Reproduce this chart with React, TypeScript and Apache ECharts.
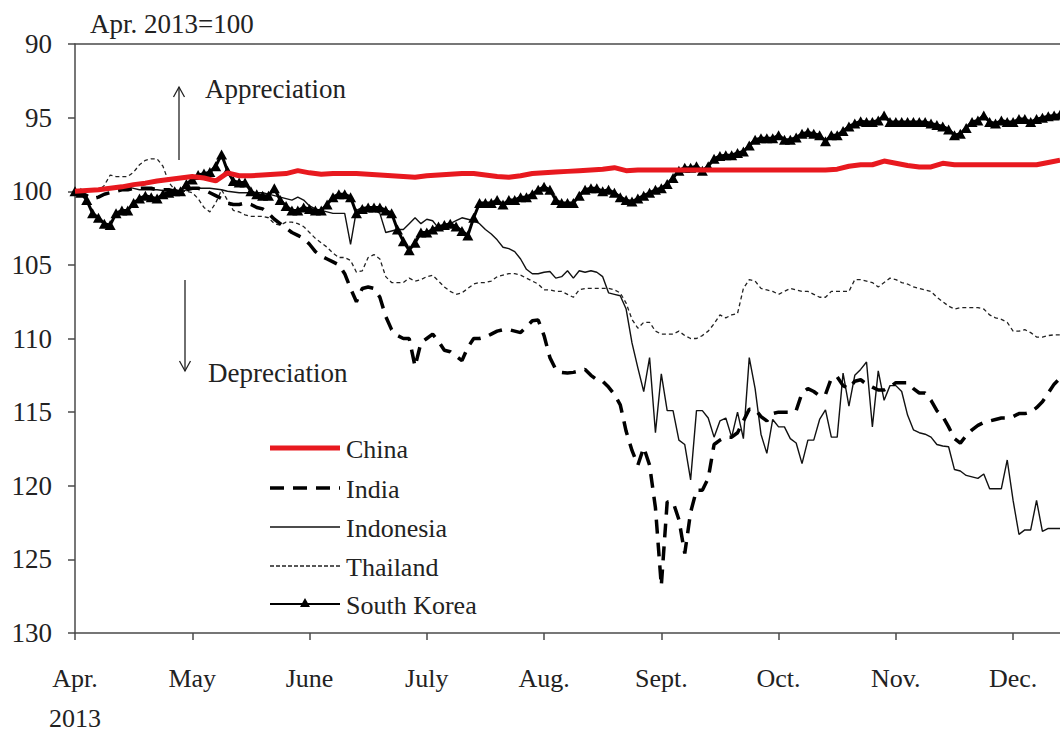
import React, { useEffect, useRef } from "react";
import * as echarts from "echarts";

// ---- labels ----
const monthLabels = ["Apr.", "May", "June", "July", "Aug.", "Sept.", "Oct.", "Nov.", "Dec."];
const yearLabel = "2013";
const baseNote = "Apr. 2013=100";
const upNote = "Appreciation";
const downNote = "Depreciation";
const seriesNames = ["China", "India", "Indonesia", "Thailand", "South Korea"];

// x is measured in months since 1 Apr 2013
const X_MAX = 8.4;
const COARSE_STEP = 0.1; // China
const FINE_STEP = 0.05; // others

// ---- series values (index 2013 Apr = 100; higher = depreciation) ----
const chinaValues = [
  100.0, 99.95, 99.9, 99.8, 99.7, 99.55, 99.45, 99.3, 99.2, 99.1,
  99.0, 99.1, 99.3, 98.75, 98.95, 98.95, 98.9, 98.85, 98.8, 98.6,
  98.75, 98.85, 98.8, 98.8, 98.8, 98.85, 98.9, 98.95, 99.0, 99.05,
  98.95, 98.9, 98.85, 98.8, 98.8, 98.9, 99.0, 99.05, 98.95, 98.8,
  98.75, 98.7, 98.65, 98.6, 98.55, 98.5, 98.4, 98.6, 98.55, 98.55,
  98.55, 98.55, 98.55, 98.55, 98.55, 98.55, 98.55, 98.55, 98.55, 98.55,
  98.55, 98.55, 98.55, 98.55, 98.55, 98.5, 98.3, 98.2, 98.2, 97.95,
  98.1, 98.25, 98.35, 98.35, 98.1, 98.2, 98.2, 98.2, 98.2, 98.2,
  98.2, 98.2, 98.2, 98.05, 97.9,
];

const indiaValues = [
  100.0, 100.1, 100.3, 100.5, 100.4, 100.2, 100.1, 100.0, 99.9, 99.9,
  99.8, 99.8, 99.8, 99.8, 99.9, 99.9, 99.9, 100.0, 100.0, 99.9,
  99.8, 99.8, 99.9, 100.1, 100.3, 100.5, 100.8, 100.9, 100.9, 100.8,
  100.9, 101.1, 101.2, 101.5, 101.9, 102.2, 102.5, 102.8, 103.0, 103.2,
  103.6, 104.1, 104.4, 104.6, 104.8, 105.0, 105.6, 106.6, 107.5, 106.6,
  106.5, 106.6, 107.2, 108.5, 109.4, 109.8, 110.0, 110.0, 111.9, 110.3,
  110.0, 109.7, 110.2, 110.8, 110.9, 111.2, 111.5, 110.6, 110.0, 110.0,
  109.9, 109.7, 109.5, 109.4, 109.4, 109.5, 109.6, 109.2, 108.8, 108.75,
  109.8, 111.3, 112.1, 112.3, 112.35, 112.3, 112.2, 112.1, 112.5, 112.8,
  112.9, 113.3, 113.8, 114.5, 116.3, 117.6, 118.6, 117.4, 118.6, 121.5,
  126.8, 121.1, 121.1, 122.3, 124.6, 121.8, 120.3, 120.3, 119.5, 117.2,
  116.9, 116.7, 116.7, 116.4, 115.6, 114.8, 114.8, 115.3, 115.6, 115.1,
  115.0, 115.0, 115.0, 114.9, 113.7, 113.4, 113.6, 113.9, 113.8, 112.7,
  112.6, 113.2, 113.4, 112.9, 112.8, 113.1, 113.3, 113.5, 113.5, 113.3,
  113.0, 113.0, 113.0, 113.4, 113.7, 113.7, 114.2, 114.9, 115.3, 116.0,
  116.8, 117.1, 116.6, 116.2, 115.9, 115.7, 115.6, 115.5, 115.4, 115.4,
  115.3, 115.1, 115.1, 115.0, 114.7, 114.3, 113.7, 113.1, 112.7,
];

const indonesiaValues = [
  100.0, 100.0, 99.9, 99.9, 99.9, 99.85, 99.7, 99.7, 99.7, 99.7,
  99.8, 99.9, 99.9, 99.9, 99.9, 99.95, 100.0, 100.05, 100.05, 99.9,
  99.8, 99.8, 99.8, 99.8, 99.85, 99.9, 100.0, 100.05, 100.1, 100.1,
  100.1, 100.1, 100.1, 100.2, 100.3, 100.4, 100.5, 100.6, 100.4, 100.6,
  101.0, 101.2, 101.3, 101.4, 101.5, 101.5, 101.5, 103.6, 101.3, 101.1,
  101.1, 101.2, 101.5, 102.8, 102.7, 102.6, 102.6, 102.2, 101.8, 102.2,
  101.9, 102.0, 102.5, 102.4, 102.2, 102.0, 101.8, 101.9, 102.0, 102.2,
  102.6, 102.9, 103.3, 103.8, 103.9, 104.1, 104.6, 105.3, 105.6, 105.6,
  105.5, 105.45, 105.9, 105.8, 105.4, 105.9, 105.4, 105.5, 105.4, 105.5,
  105.8, 106.9, 107.0, 107.1, 108.0, 110.3, 112.0, 113.6, 111.3, 116.4,
  112.4, 114.9, 114.9, 116.9, 117.2, 119.6, 114.9, 114.9, 115.4, 116.7,
  115.6, 115.4, 116.7, 115.0, 116.8, 111.3, 113.4, 116.5, 117.8, 115.5,
  116.0, 116.0, 116.8, 117.1, 118.5, 116.9, 116.9, 115.5, 114.85, 116.7,
  116.7, 112.35, 114.6, 112.5, 112.1, 111.6, 116.0, 112.2, 114.2, 113.2,
  113.2, 113.6, 115.2, 116.2, 116.4, 116.5, 116.7, 117.2, 117.3, 117.35,
  118.9, 119.0, 119.3, 119.4, 119.5, 119.2, 120.2, 120.2, 120.2, 118.25,
  121.0, 123.3, 123.0, 123.0, 121.0, 123.1, 122.9, 122.9, 122.9,
];

const thailandValues = [
  100.0, 100.0, 100.0, 100.0, 100.0, 99.6, 98.9, 99.0, 99.0, 99.0,
  98.7, 98.2, 97.9, 97.8, 97.8, 98.3, 99.4, 99.9, 100.0, 100.0,
  100.1, 100.5, 101.1, 101.4, 100.8, 99.9, 100.6, 101.3, 101.4, 101.6,
  101.7, 101.7, 101.7, 101.8, 102.2, 102.3, 102.1, 102.1, 102.2, 102.4,
  102.8, 103.2, 103.5, 103.8, 104.2, 104.5, 104.5, 104.7, 105.5, 105.4,
  104.5, 104.3, 104.6, 105.8, 106.2, 106.2, 106.2, 105.9, 106.1, 106.0,
  105.8, 105.7, 106.1, 106.5, 106.8, 107.0, 106.9, 106.6, 106.3, 106.2,
  106.2, 106.1, 105.8, 105.7, 105.6, 105.6, 105.7, 105.9, 106.1, 106.3,
  106.7, 106.7, 106.8, 106.8, 107.0, 107.2, 106.7, 106.6, 106.6, 106.6,
  106.6, 106.6, 106.7, 106.9, 107.6, 108.7, 109.3, 108.9, 108.9, 109.5,
  109.7, 109.7, 109.7, 109.5, 109.8, 110.0, 110.0, 109.8, 109.5, 109.0,
  108.4, 108.6, 108.4, 108.3, 106.6, 106.0, 106.1, 106.6, 106.7, 106.8,
  107.0, 106.8, 106.6, 106.7, 106.8, 106.8, 107.0, 107.2, 107.2, 106.8,
  106.8, 106.8, 106.8, 106.0, 106.0, 106.1, 106.2, 106.5, 106.2, 105.9,
  106.0, 106.2, 106.3, 106.5, 106.6, 106.7, 106.8, 107.2, 107.5, 107.8,
  108.0, 107.9, 107.9, 107.9, 107.9, 108.0, 108.4, 108.6, 108.7, 108.9,
  109.5, 109.5, 109.4, 109.6, 109.9, 109.9, 109.8, 109.75, 109.75,
];

const koreaValues = [
  100.0, 100.1, 100.6, 101.5, 101.8, 102.2, 102.3, 101.5, 101.3, 101.3,
  100.8, 100.5, 100.3, 100.4, 100.5, 100.2, 100.1, 100.0, 100.0, 99.5,
  99.2, 98.9, 98.8, 98.7, 98.3, 97.5, 98.6, 99.3, 99.4, 99.4,
  100.0, 100.2, 100.3, 100.3, 99.8, 100.6, 101.0, 101.3, 101.3, 101.1,
  101.2, 101.3, 101.3, 100.9, 100.4, 100.2, 100.2, 100.4, 101.5, 101.2,
  101.1, 101.1, 101.1, 101.3, 101.5, 102.6, 103.4, 104.0, 103.5, 102.8,
  102.8, 102.6, 102.4, 102.3, 102.2, 102.4, 102.7, 103.0, 101.8, 100.8,
  100.8, 100.8, 100.6, 100.9, 100.6, 100.6, 100.4, 100.4, 100.2, 99.9,
  99.7, 99.9, 100.6, 100.8, 100.8, 100.8, 100.3, 99.9, 99.8, 99.8,
  100.0, 99.9, 100.1, 100.4, 100.6, 100.7, 100.5, 100.3, 100.1, 99.9,
  99.8, 99.5, 99.1, 98.6, 98.4, 98.4, 98.3, 98.6, 98.3, 97.8,
  97.6, 97.55, 97.55, 97.4, 97.3, 96.9, 96.5, 96.4, 96.4, 96.4,
  96.2, 96.5, 96.5, 96.35, 96.1, 96.0, 96.1, 96.2, 96.6, 96.2,
  96.2, 95.9, 95.6, 95.4, 95.25, 95.3, 95.3, 95.2, 94.85, 95.3,
  95.3, 95.3, 95.3, 95.3, 95.3, 95.3, 95.4, 95.5, 95.6, 95.8,
  96.2, 96.1, 95.7, 95.3, 95.2, 94.85, 95.3, 95.4, 95.2, 95.3,
  95.3, 95.1, 95.1, 95.3, 95.1, 95.0, 94.9, 94.85, 94.8,
];

const FONT = "'Liberation Serif', 'Times New Roman', serif";
const TEXT = "#222";
const AXIS = "#4a4a4a";
const RED = "#e8191f";

const toPoints = (vals: number[], step: number) =>
  vals.map((v, i) => [Math.round(i * step * 100) / 100, v]);

const tickValues = monthLabels.map((_, i) => i);

export default function App() {
  const ref = useRef<HTMLDivElement>(null);

  useEffect(() => {
    document.body.style.margin = "0";
    if (!ref.current) return;
    const chart = echarts.init(ref.current, undefined, { renderer: "svg" });

    const legendRows = [448, 488, 527, 566, 604];
    const lx1 = 270;
    const lx2 = 340;
    const legendLineStyles: any[] = [
      { stroke: RED, lineWidth: 5 },
      { stroke: "#000", lineWidth: 3.5, lineDash: [14, 9] },
      { stroke: "#111", lineWidth: 1.5 },
      { stroke: "#222", lineWidth: 1.3, lineDash: [4, 2] },
      { stroke: "#000", lineWidth: 2 },
    ];
    const legendGraphics: any[] = [];
    seriesNames.forEach((name, k) => {
      const y = legendRows[k];
      legendGraphics.push({
        type: "line",
        shape: { x1: lx1, y1: y, x2: lx2, y2: y },
        style: { ...legendLineStyles[k], fill: null },
        z: 100,
      });
      legendGraphics.push({
        type: "text",
        x: 346,
        y: y + 1,
        style: { text: name, font: `26px ${FONT}`, fill: TEXT, verticalAlign: "middle", align: "left" },
        z: 100,
      });
    });
    legendGraphics.push({
      type: "polygon",
      shape: { points: [[305, 598], [300, 607], [310, 607]] },
      style: { fill: "#000" },
      z: 101,
    });

    const font = { fontFamily: FONT, fontSize: 26, color: TEXT };

    chart.setOption({
      animation: false,
      backgroundColor: "#fff",
      grid: { left: 75, right: 0, top: 44, bottom: 98, containLabel: false, outerBoundsMode: "none" },
      xAxis: [
        {
          type: "value",
          min: 0,
          max: X_MAX,
          interval: 1,
          axisLine: { show: true, onZero: false, lineStyle: { color: AXIS, width: 1.5 } },
          axisTick: { show: true, inside: false, length: 7, customValues: tickValues, lineStyle: { color: AXIS, width: 1.5 } },
          axisLabel: {
            ...font,
            margin: 25,
            lineHeight: 40,
            customValues: tickValues,
            formatter: (v: number) => {
              if (Math.abs(v - Math.round(v)) > 1e-6) return "";
              const i = Math.round(v);
              if (i < 0 || i >= monthLabels.length) return "";
              return i === 0 ? monthLabels[0] + "\n" + yearLabel : monthLabels[i];
            },
          },
          splitLine: { show: false },
        },
        {
          type: "value",
          position: "top",
          min: 0,
          max: X_MAX,
          axisLine: { show: true, onZero: false, lineStyle: { color: AXIS, width: 1.5 } },
          axisTick: { show: false },
          axisLabel: { show: false },
          splitLine: { show: false },
        },
      ],
      yAxis: {
        type: "value",
        inverse: true,
        min: 90,
        max: 130,
        interval: 5,
        axisLine: { show: true, onZero: false, lineStyle: { color: AXIS, width: 1.5 } },
        axisTick: { show: true, inside: false, length: 7, lineStyle: { color: AXIS, width: 1.5 } },
        axisLabel: { ...font, fontSize: 27, margin: 23 },
        splitLine: { show: false },
      },
      series: [
        {
          name: seriesNames[3],
          type: "line",
          data: toPoints(thailandValues, FINE_STEP),
          showSymbol: false,
          lineStyle: { color: "#222", width: 1.3, type: [4, 3] },
          z: 2,
        },
        {
          name: seriesNames[2],
          type: "line",
          data: toPoints(indonesiaValues, FINE_STEP),
          showSymbol: false,
          lineStyle: { color: "#111", width: 1.4 },
          z: 3,
        },
        {
          name: seriesNames[1],
          type: "line",
          data: toPoints(indiaValues, FINE_STEP),
          showSymbol: false,
          lineStyle: { color: "#000", width: 3.5, type: [14, 9] },
          z: 4,
        },
        {
          name: seriesNames[4],
          type: "line",
          data: toPoints(koreaValues, FINE_STEP),
          showSymbol: true,
          symbol: "triangle",
          symbolSize: [11, 10],
          itemStyle: { color: "#000" },
          lineStyle: { color: "#000", width: 3 },
          z: 5,
        },
        {
          name: seriesNames[0],
          type: "line",
          data: toPoints(chinaValues, COARSE_STEP),
          showSymbol: false,
          lineStyle: { color: RED, width: 5 },
          z: 6,
        },
      ],
      graphic: [
        {
          type: "text",
          x: 90,
          y: 24,
          style: { text: baseNote, font: `27px ${FONT}`, fill: TEXT, verticalAlign: "middle", align: "left" },
          z: 100,
        },
        {
          type: "text",
          x: 205,
          y: 89,
          style: { text: upNote, font: `27px ${FONT}`, fill: TEXT, verticalAlign: "middle", align: "left" },
          z: 100,
        },
        {
          type: "text",
          x: 208,
          y: 373,
          style: { text: downNote, font: `27px ${FONT}`, fill: TEXT, verticalAlign: "middle", align: "left" },
          z: 100,
        },
        {
          type: "line",
          shape: { x1: 179, y1: 160, x2: 179, y2: 87 },
          style: { stroke: "#222", lineWidth: 1.3 },
          z: 100,
        },
        {
          type: "polyline",
          shape: { points: [[173.5, 97], [179, 87], [184.5, 97]] },
          style: { stroke: "#222", lineWidth: 1.3, fill: null },
          z: 100,
        },
        {
          type: "line",
          shape: { x1: 185, y1: 280, x2: 185, y2: 371 },
          style: { stroke: "#222", lineWidth: 1.3 },
          z: 100,
        },
        {
          type: "polyline",
          shape: { points: [[179.5, 361], [185, 371], [190.5, 361]] },
          style: { stroke: "#222", lineWidth: 1.3, fill: null },
          z: 100,
        },
        ...legendGraphics,
      ],
    });

    return () => {
      chart.dispose();
    };
  }, []);

  return <div ref={ref} style={{ width: 1060, height: 731 }} />;
}
